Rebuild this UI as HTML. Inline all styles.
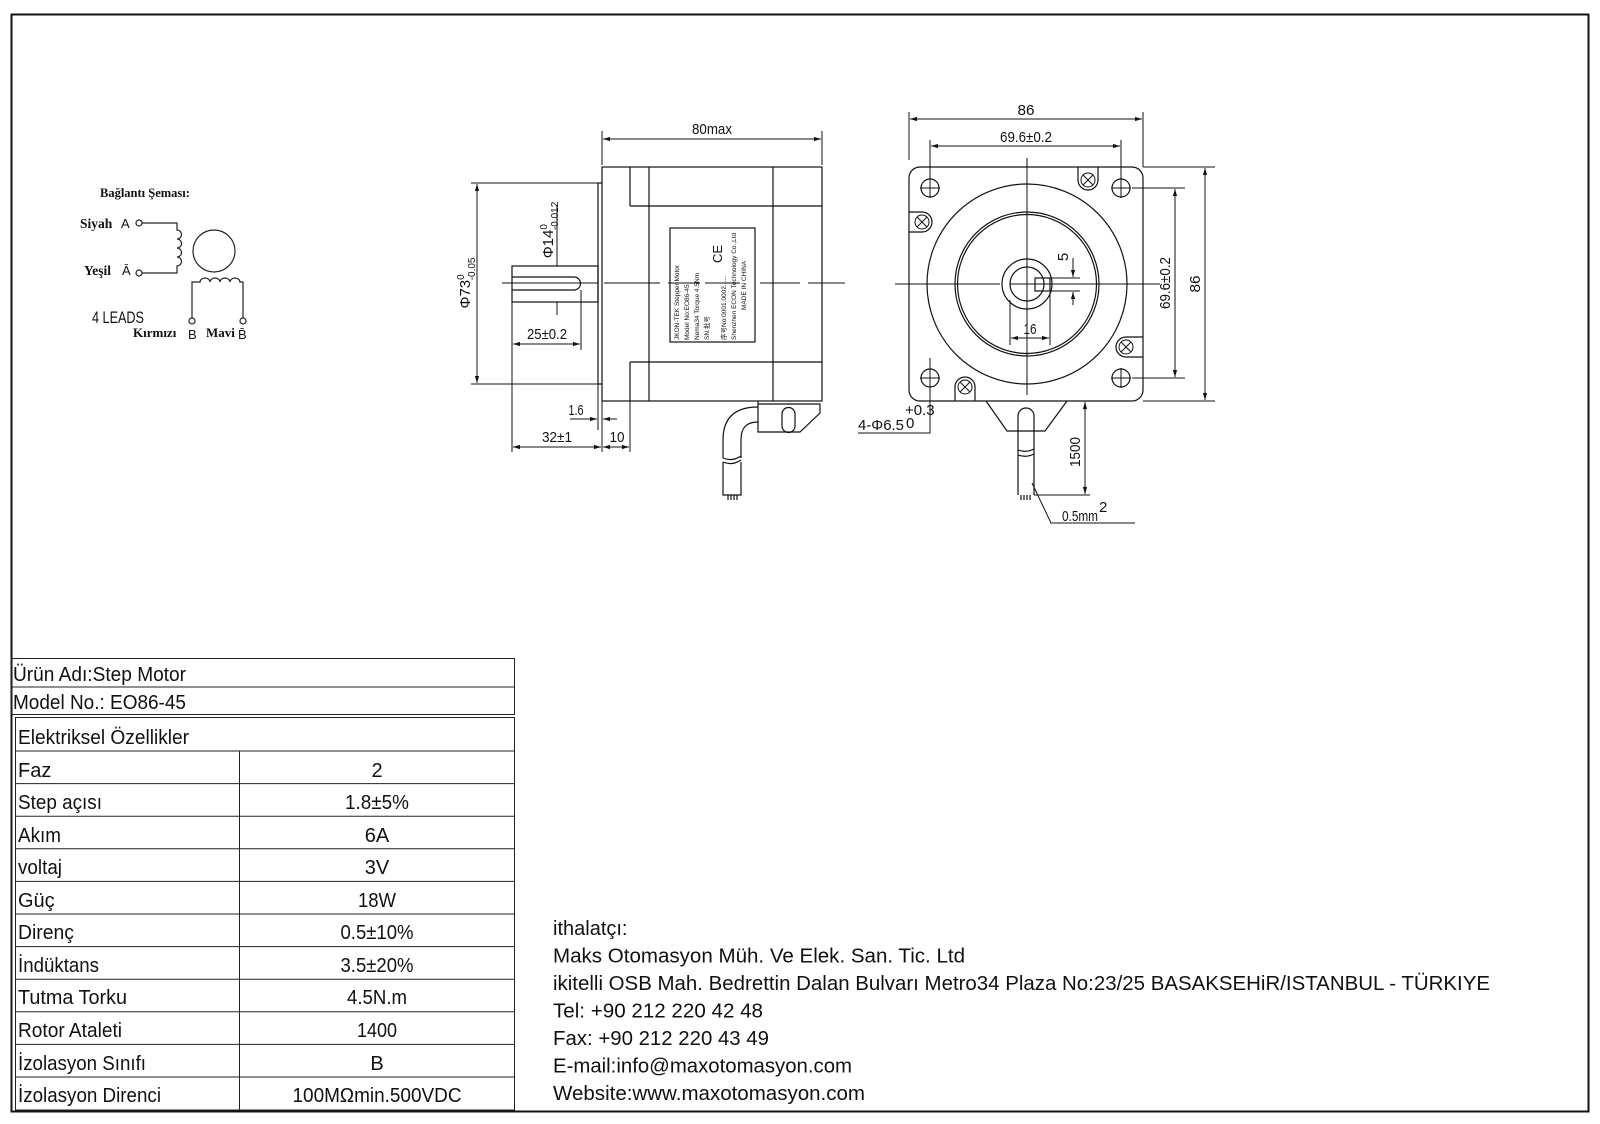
<!DOCTYPE html>
<html><head><meta charset="utf-8"><style>
html,body{margin:0;padding:0;background:#fff;}
svg{display:block;}
.t{font-family:"Liberation Sans",sans-serif;fill:#111;}
.n{font-family:"Liberation Sans",sans-serif;fill:#111;font-size:15px;}
.s{font-family:"Liberation Serif",serif;font-weight:bold;fill:#111;}
</style></head><body>
<svg width="1600" height="1124" viewBox="0 0 1600 1124" xmlns="http://www.w3.org/2000/svg">
<defs>
<marker id="a" viewBox="0 0 10 10" refX="10" refY="5" markerWidth="7" markerHeight="7" orient="auto-start-reverse"><path d="M0,2 L10,5 L0,8z" fill="#111"/></marker>
</defs>
<rect x="0" y="0" width="1600" height="1124" fill="#fff"/>
<rect x="11.5" y="14.5" width="1577" height="1097" fill="none" stroke="#111" stroke-width="2"/>

<!-- connection diagram -->
<text x="100" y="197" class="s" font-size="12.5">Bağlantı Şeması:</text>
<text x="80" y="228" class="s" font-size="13.5">Siyah</text><text x="121" y="228" class="t" font-size="13">A</text>
<text x="84" y="275" class="s" font-size="13.5">Yeşil</text><text x="122" y="275" class="t" font-size="13">Ā</text>
<g fill="none" stroke="#222" stroke-width="1.2">
<circle cx="139" cy="223" r="3"/><circle cx="139" cy="273" r="3"/>
<path d="M142,223 H177 V230 a4,4 0 0 1 0,9 a4,4 0 0 1 0,9 a4,4 0 0 1 0,9 a4,4 0 0 1 0,9 V273 H142"/>
<circle cx="214" cy="251" r="21"/>
<path d="M192,318 V282 H200 a5,4 0 0 1 10,0 a5,4 0 0 1 10,0 a5,4 0 0 1 10,0 a5,4 0 0 1 10,0 H243 V318"/>
<circle cx="192" cy="321" r="3"/><circle cx="243" cy="321" r="3"/>
</g>
<text x="92" y="323" class="t" font-size="17" textLength="52" lengthAdjust="spacingAndGlyphs" fill="#333">4 LEADS</text>
<text x="133" y="337" class="s" font-size="13">Kırmızı</text><text x="188" y="339" class="t" font-size="13">B</text>
<text x="206" y="337" class="s" font-size="13">Mavi</text><text x="238" y="339" class="t" font-size="13">B̄</text>

<!-- side view -->
<g fill="none" stroke="#111" stroke-width="1.2">
<rect x="602" y="167" width="220" height="234"/>
<path d="M630,167 V206 M630,362 V401 M649,167 V401 M773,167 V401 M630,206 H822 M630,362 H822"/>
<path d="M598,183 V384 M598,183 H602 M598,384 H602"/>
<rect x="512" y="266" width="86" height="36"/>
<path d="M512,277 H574 a6.5,6.5 0 0 1 0,13 H512"/>
<rect x="670" y="228" width="85" height="114"/>
<path d="M758,401 V432 H800 L820,413 V404 H758"/>
<path d="M782,426 V414 a6.5,6.5 0 0 1 13,0 V426 a6.5,6.5 0 0 1 -13,0z"/>
<path d="M758,407 C735,407 723,418 723,440 V458 M758,422 C746,422 741,428 741,440 V458"/>
<path d="M723,458 q9,4 18,-2 M723,462 q9,4 18,-2"/>
<path d="M723,462 V495 H741 V462"/>
<path d="M728,495 V500 M731,495 V500 M734,495 V500 M737,495 V500"/>
</g>
<g stroke="#111" stroke-width="1" fill="none">
<path d="M502,283 H598 M604,283 H660 M668,283 H700 M705,283 H740 M760,283 H800 M808,283 H845" />
<path d="M602,165 V131 M822,165 V131"/>
<line x1="603" y1="139" x2="821" y2="139" marker-start="url(#a)" marker-end="url(#a)"/>
<path d="M471,183 H598 M471,384 H602"/>
<line x1="477" y1="184" x2="477" y2="383" marker-start="url(#a)" marker-end="url(#a)"/>
<path d="M557,205 V266 M557,302 V315"/>
<path d="M512,302 V452 M581,290 V350"/>
<line x1="513" y1="344" x2="580" y2="344" marker-start="url(#a)" marker-end="url(#a)"/>
<line x1="570" y1="419" x2="597" y2="419" marker-end="url(#a)"/>
<line x1="617" y1="419" x2="603" y2="419" marker-end="url(#a)"/>
<path d="M598,384 V430"/>
<path d="M602,401 V452 M630,401 V452"/>
<line x1="513" y1="447" x2="601" y2="447" marker-start="url(#a)" marker-end="url(#a)"/>
<line x1="603" y1="447" x2="629" y2="447" marker-start="url(#a)" marker-end="url(#a)"/>
</g>
<text x="712" y="134" class="n" text-anchor="middle" font-size="18" textLength="40" lengthAdjust="spacingAndGlyphs">80max</text>
<text transform="translate(470,283) rotate(-90)" class="n" text-anchor="middle" font-size="16">Φ73<tspan font-size="10" dy="-6">0</tspan><tspan font-size="10" dx="-6" dy="11">-0.05</tspan></text>
<text transform="translate(553,230) rotate(-90)" class="n" text-anchor="middle" font-size="16">Φ14<tspan font-size="10" dy="-6">0</tspan><tspan font-size="10" dx="-6" dy="11">-0.012</tspan></text>
<text x="547" y="339" class="n" text-anchor="middle" font-size="17" textLength="40" lengthAdjust="spacingAndGlyphs">25±0.2</text>
<text x="576" y="415" class="n" text-anchor="middle" font-size="16" textLength="15" lengthAdjust="spacingAndGlyphs">1.6</text>
<text x="557" y="442" class="n" text-anchor="middle" font-size="17" textLength="30" lengthAdjust="spacingAndGlyphs">32±1</text>
<text x="617" y="442" class="n" text-anchor="middle" font-size="17" textLength="15" lengthAdjust="spacingAndGlyphs">10</text>
<g transform="translate(712,285) rotate(-90)" class="t" font-size="6.5" text-anchor="start">
<text x="-55" y="-33">JKON-TEK    Stepper Motor</text>
<text x="-55" y="-23">Model No:EO86-45</text>
<text x="-55" y="-13">Nema34  Torque 4.5Nm</text>
<text x="-55" y="-3">SN.批号</text>
<text x="-55" y="14">序号No:0001.0002......</text>
<text x="-55" y="24">Shenzhen ECON Technology Co.,Ltd</text>
<text x="-25" y="34">MADE IN CHINA</text>
<text x="22" y="10" font-size="13">CE</text>
</g>

<!-- front view -->
<g fill="none" stroke="#111" stroke-width="1.2">
<rect x="909" y="167" width="234" height="234" rx="11"/>
<circle cx="1027" cy="284" r="100"/>
<circle cx="1027" cy="284" r="72"/>
<circle cx="1027" cy="284" r="69.5"/>
<circle cx="1027" cy="284" r="25"/>
<circle cx="1027" cy="284" r="17"/>
<rect x="1035" y="278" width="15" height="13"/>
<circle cx="930" cy="188" r="9"/><circle cx="1121" cy="188" r="9"/>
<circle cx="930" cy="378" r="9"/><circle cx="1121" cy="378" r="9"/>
<path d="M1078,167 V180 a10,10 0 0 0 20,0 V167 M909,212 H922 a10,10 0 0 1 0,20 H909 M1143,337 H1126 a10,10 0 0 0 0,20 H1143 M955,401 V387 a10,10 0 0 1 20,0 V401"/>
<g stroke-width="1"><circle cx="1088" cy="180" r="7"/><circle cx="922" cy="222" r="7"/><circle cx="1126" cy="347" r="7"/><circle cx="965" cy="387" r="7"/>
<path d="M1083,175 l10,10 m0,-10 l-10,10 M917,217 l10,10 m0,-10 l-10,10 M1121,342 l10,10 m0,-10 l-10,10 M960,382 l10,10 m0,-10 l-10,10"/></g>
<path d="M986,401 L1007,431 H1045 L1067,401"/>
<path d="M1018,495 V416 a8,8 0 0 1 16,0 V495"/>
<path d="M1018,450 q8,3 16,-1 M1018,455 q8,3 16,-1"/>
<path d="M1021,495 V500 M1024,495 V500 M1027,495 V500 M1030,495 V500"/>
</g>
<g stroke="#111" stroke-width="1" fill="none">
<path d="M1027,158 V395 M895,284 H1000 M1010,284 H1160"/>
<path d="M920,188 H940 M930,178 V198 M1111,188 H1131 M1121,178 V198 M920,378 H940 M930,368 V388 M1111,378 H1131 M1121,368 V388"/>
<path d="M909,160 V112 M1143,167 V112 M930,178 V140 M1121,178 V140"/>
<line x1="910" y1="119" x2="1142" y2="119" marker-start="url(#a)" marker-end="url(#a)"/>
<line x1="931" y1="146" x2="1120" y2="146" marker-start="url(#a)" marker-end="url(#a)"/>
<path d="M1132,188 H1185 M1132,378 H1185 M1143,167 H1215 M1143,401 H1215"/>
<line x1="1175" y1="189" x2="1175" y2="377" marker-start="url(#a)" marker-end="url(#a)"/>
<line x1="1205" y1="168" x2="1205" y2="400" marker-start="url(#a)" marker-end="url(#a)"/>
<path d="M1010,300 V345 M1050,292 V345"/>
<line x1="1011" y1="338" x2="1049" y2="338" marker-start="url(#a)" marker-end="url(#a)"/>
<path d="M1050,278 H1080 M1050,291 H1080"/>
<line x1="1073" y1="258" x2="1073" y2="277" marker-end="url(#a)"/>
<line x1="1073" y1="305" x2="1073" y2="292" marker-end="url(#a)"/>
<path d="M1067,401 H1090"/>
<line x1="1085" y1="402" x2="1085" y2="494" marker-start="url(#a)" marker-end="url(#a)"/>
<path d="M1034,495 H1090"/>
<path d="M1032,483 L1051,523 H1135"/>
<path d="M930,358 V433 H858"/>
</g>
<text x="1026" y="115" class="n" text-anchor="middle" font-size="17" textLength="17" lengthAdjust="spacingAndGlyphs">86</text>
<text x="1026" y="142" class="n" text-anchor="middle" font-size="17" textLength="52" lengthAdjust="spacingAndGlyphs">69.6±0.2</text>
<text transform="translate(1170,283) rotate(-90)" class="n" text-anchor="middle" font-size="17" textLength="52" lengthAdjust="spacingAndGlyphs">69.6±0.2</text>
<text transform="translate(1200,284) rotate(-90)" class="n" text-anchor="middle" font-size="17" textLength="17" lengthAdjust="spacingAndGlyphs">86</text>
<text x="1030" y="334" class="n" text-anchor="middle" font-size="17" textLength="13" lengthAdjust="spacingAndGlyphs">16</text>
<text transform="translate(1068,257) rotate(-90)" class="n" text-anchor="middle" font-size="17">5</text>
<text transform="translate(1080,452) rotate(-90)" class="n" text-anchor="middle" font-size="17" textLength="30" lengthAdjust="spacingAndGlyphs">1500</text>
<text x="1062" y="521" class="n" font-size="16" textLength="36" lengthAdjust="spacingAndGlyphs">0.5mm</text><text x="1099" y="512" class="n" font-size="10">2</text>
<text x="858" y="430" class="n" font-size="17" textLength="46" lengthAdjust="spacingAndGlyphs">4-Φ6.5</text>
<text x="905" y="415" class="n" font-size="9">+0.3</text><text x="906" y="428" class="n" font-size="10">0</text>

<!-- tables -->
<g fill="none" stroke="#222" stroke-width="1">
<rect x="11.5" y="658.5" width="503" height="56"/>
<line x1="11.5" y1="687" x2="514.5" y2="687"/>
<rect x="15.5" y="717.5" width="499" height="392.5"/>
<line x1="12" y1="717" x2="12" y2="1111"/>
<path d="M15.5,751 H514.5 M15.5,783.6 H514.5 M15.5,816.2 H514.5 M15.5,848.8 H514.5 M15.5,881.4 H514.5 M15.5,914 H514.5 M15.5,946.6 H514.5 M15.5,979.2 H514.5 M15.5,1011.8 H514.5 M15.5,1044.4 H514.5 M15.5,1077 H514.5"/>
<line x1="239.5" y1="751" x2="239.5" y2="1110"/>
</g>
<g class="t" font-size="20">
<text x="13" y="681" textLength="173" lengthAdjust="spacingAndGlyphs">Ürün Adı:Step Motor</text>
<text x="13" y="709" textLength="173" lengthAdjust="spacingAndGlyphs">Model No.: EO86-45</text>
<text x="18" y="744" textLength="171" lengthAdjust="spacingAndGlyphs">Elektriksel Özellikler</text>
<text x="18" y="777">Faz</text>
<text x="18" y="809" textLength="84" lengthAdjust="spacingAndGlyphs">Step açısı</text>
<text x="18" y="842" textLength="43" lengthAdjust="spacingAndGlyphs">Akım</text>
<text x="18" y="874" textLength="44" lengthAdjust="spacingAndGlyphs">voltaj</text>
<text x="18" y="907">Güç</text>
<text x="18" y="939" textLength="56" lengthAdjust="spacingAndGlyphs">Direnç</text>
<text x="18" y="972" textLength="81" lengthAdjust="spacingAndGlyphs">İndüktans</text>
<text x="18" y="1004" textLength="109" lengthAdjust="spacingAndGlyphs">Tutma Torku</text>
<text x="18" y="1037" textLength="104" lengthAdjust="spacingAndGlyphs">Rotor Ataleti</text>
<text x="18" y="1070" textLength="128" lengthAdjust="spacingAndGlyphs">İzolasyon Sınıfı</text>
<text x="18" y="1102" textLength="143" lengthAdjust="spacingAndGlyphs">İzolasyon Direnci</text>
</g>
<g class="t" font-size="20" text-anchor="middle">
<text x="377" y="777">2</text>
<text x="377" y="809" textLength="64" lengthAdjust="spacingAndGlyphs">1.8±5%</text>
<text x="377" y="842">6A</text>
<text x="377" y="874">3V</text>
<text x="377" y="907" textLength="38" lengthAdjust="spacingAndGlyphs">18W</text>
<text x="377" y="939" textLength="73" lengthAdjust="spacingAndGlyphs">0.5±10%</text>
<text x="377" y="972" textLength="73" lengthAdjust="spacingAndGlyphs">3.5±20%</text>
<text x="377" y="1004" textLength="60" lengthAdjust="spacingAndGlyphs">4.5N.m</text>
<text x="377" y="1037" textLength="40" lengthAdjust="spacingAndGlyphs">1400</text>
<text x="377" y="1070">B</text>
<text x="377" y="1102" textLength="169" lengthAdjust="spacingAndGlyphs">100MΩmin.500VDC</text>
</g>

<!-- contact -->
<g class="t" font-size="20">
<text x="553" y="935">ithalatçı:</text>
<text x="553" y="962.5" textLength="412" lengthAdjust="spacingAndGlyphs">Maks Otomasyon Müh. Ve Elek. San. Tic. Ltd</text>
<text x="553" y="990" textLength="937" lengthAdjust="spacingAndGlyphs">ikitelli OSB Mah. Bedrettin Dalan Bulvarı Metro34 Plaza No:23/25 BASAKSEHiR/ISTANBUL - TÜRKIYE</text>
<text x="553" y="1017.5" textLength="210" lengthAdjust="spacingAndGlyphs">Tel: +90 212 220 42 48</text>
<text x="553" y="1045" textLength="216" lengthAdjust="spacingAndGlyphs">Fax: +90 212 220 43 49</text>
<text x="553" y="1072.5" textLength="299" lengthAdjust="spacingAndGlyphs">E-mail:info@maxotomasyon.com</text>
<text x="553" y="1100" textLength="312" lengthAdjust="spacingAndGlyphs">Website:www.maxotomasyon.com</text>
</g>
</svg>
</body></html>
